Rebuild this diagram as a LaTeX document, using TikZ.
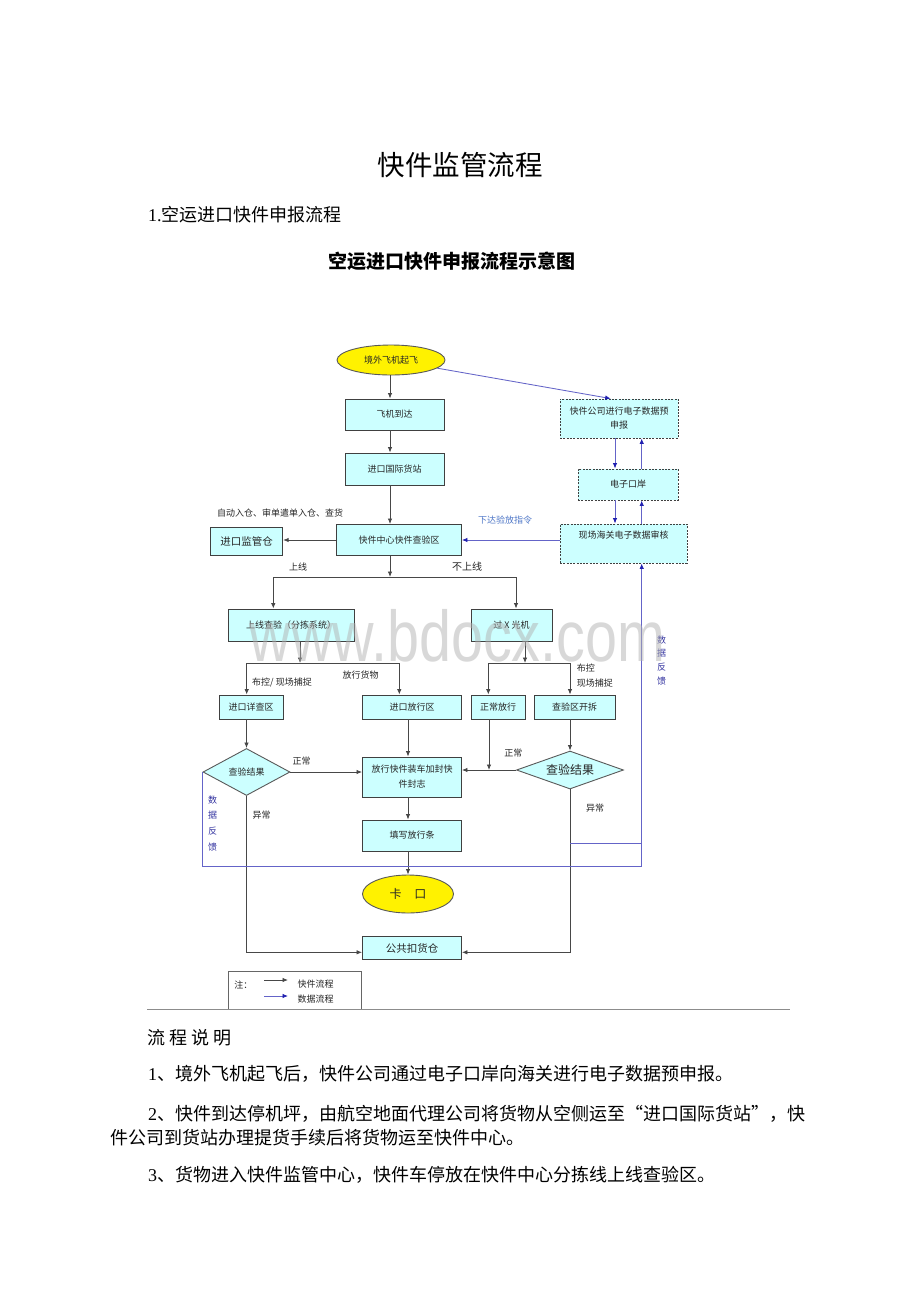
\documentclass[tikz,border=0pt]{standalone}
\usepackage{fontspec}
\setmainfont{Noto Sans CJK SC}
\newfontfamily\digitfont{Liberation Serif}
\newfontfamily\markfont{Liberation Sans}
\usetikzlibrary{shapes,arrows,arrows.meta}
\definecolor{boxcyan}{HTML}{CCFFFF}
\definecolor{datablue}{HTML}{6464C8}
\definecolor{tipblue}{HTML}{2020B0}
\definecolor{labelblue}{HTML}{3333A0}
\definecolor{orderblue}{HTML}{5078C8}
\tikzset{%
	block/.style    = {draw=black!75, line width=0.9pt, rectangle, fill=boxcyan,
		inner sep=1pt, font=\fontsize{9}{14}\selectfont, text=black!85, align=center},
	netblock/.style = {block, dash pattern=on 2pt off 1.3pt}, % dotted frame
	oval/.style     = {draw=black!65, line width=0.9pt, ellipse, fill=yellow,
		inner sep=0pt, font=\fontsize{9}{11}\selectfont, text=black!85},
	check/.style    = {draw=black!65, line width=0.9pt, diamond, fill=boxcyan,
		inner sep=0pt, font=\fontsize{9}{11}\selectfont, text=black!85},
	flowline/.style = {draw=black!72, line width=0.85pt,
		>={Latex[length=5.5pt,width=4.5pt]}},
	dataline/.style = {draw=datablue, line width=0.85pt,
		>={Latex[length=5.5pt,width=4.5pt,color=tipblue]}},
	lbl/.style      = {font=\fontsize{9}{11}\selectfont, text=black!85, inner sep=0pt},
	doc/.style      = {font=\fontsize{18}{18}\selectfont, anchor=west, inner sep=0pt}
}

\begin{document}
\begin{tikzpicture}[x=1pt,y=-1pt]
			\fill[white] (0,0) rectangle (920,1302);
			\useasboundingbox (0,0) rectangle (920,1302);
			
			% headings
			\node[font=\fontsize{27.5}{28}\selectfont, inner sep=0pt] (title) at (460,165.5) {快件监管流程};
			\node[doc] (sect) at (148,214.5) {{\digitfont 1.}空运进口快件申报流程};
			\node[font=\fontsize{19}{19}\selectfont\bfseries, inner sep=0pt] (chart) at (451.7,261) {空运进口快件申报流程示意图};
			
			% cargo flow
			\node[oval, minimum width=108pt, minimum height=30pt] (takeoff) at (391,360) {境外飞机起飞};
			\node[block, minimum width=99pt, minimum height=31pt] (arrive) at (394.5,414.5) {飞机到达};
			\node[block, minimum width=99pt, minimum height=32pt] (station) at (394.5,469) {进口国际货站};
			\node[block, minimum width=125pt, minimum height=31pt] (hub) at (399,540) {快件中心快件查验区};
			\node[block, minimum width=72pt, minimum height=28pt, font=\fontsize{10.5}{12}\selectfont] (bonded) at (246.7,541) {进口监管仓};
			\node[block, minimum width=126pt, minimum height=32pt] (online) at (291,625) {上线查验（分拣系统）};
			\node[block, minimum width=81pt, minimum height=32pt] (xray) at (511.5,625) {过 X 光机};
			\node[block, minimum width=64pt, minimum height=24pt] (detail) at (251,707) {进口详查区};
			\node[block, minimum width=99pt, minimum height=24pt] (release) at (412,707) {进口放行区};
			\node[block, minimum width=54pt, minimum height=24pt] (normal) at (498,707) {正常放行};
			\node[block, minimum width=81pt, minimum height=24pt] (unpack) at (574.5,707) {查验区开拆};
			\node[check, aspect=1.85, minimum width=87pt, minimum height=47pt] (ldia) at (246.5,772) {查验结果};
			\node[check, aspect=2.8, minimum width=107pt, minimum height=38pt, font=\fontsize{12}{13}\selectfont] (rdia) at (570,770) {查验结果};
			\node[block, minimum width=99pt, minimum height=40pt, font=\fontsize{9}{15}\selectfont] (seal) at (412,777) {放行快件装车加封快\\件封志};
			\node[block, minimum width=99pt, minimum height=31pt] (slip) at (412,835.5) {填写放行条};
			\node[oval, minimum width=91pt, minimum height=38pt, font=\fontsize{12}{13}\selectfont] (gate) at (408,894) {卡\hspace{13pt}口};
			\node[block, minimum width=99pt, minimum height=23pt, font=\fontsize{10.5}{12}\selectfont] (hold) at (412,948.3) {公共扣货仓};
			
			% data flow
			\node[netblock, minimum width=118pt, minimum height=39pt] (predecl) at (619,418.5) {快件公司进行电子数据预\\申报};
			\node[netblock, minimum width=100pt, minimum height=31pt] (eport) at (628,484.5) {电子口岸};
			\node[netblock, minimum width=127pt, minimum height=39pt, text depth=18pt] (audit) at (623.5,543.5) {现场海关电子数据审核};
			
			% labels
			\node[lbl] (autoin) at (280,513) {自动入仓、审单遣单入仓、查货};
			\node[lbl, text=orderblue] (order) at (505,520) {下达验放指令};
			\node[lbl] (onl) at (298,567) {上线};
			\node[lbl, font=\fontsize{10}{11}\selectfont] (offl) at (467,567) {不上线};
			\node[lbl] (ctrl1) at (282,682.7) {布控/ 现场捕捉};
			\node[lbl] (pass) at (360.7,675) {放行货物};
			\node[lbl, anchor=west, align=left, font=\fontsize{9}{15}\selectfont] (ctrl2) at (576.7,675.5) {布控\\现场捕捉};
			\node[lbl] (ok1) at (301.7,760.7) {正常};
			\node[lbl] (ok2) at (513.3,753) {正常};
			\node[lbl] (bad1) at (261.7,815) {异常};
			\node[lbl] (bad2) at (595,808) {异常};
			\node[lbl, text=labelblue, align=center, font=\fontsize{9}{15.6}\selectfont] (fbl) at (212.7,823.3) {数\\据\\反\\馈};
			\node[lbl, text=labelblue, align=center, font=\fontsize{9}{13.6}\selectfont] (fbr) at (661.7,660.3) {数\\据\\反\\馈};
			
			% junctions
			\coordinate (split) at (390,577);
			\coordinate (splitL) at (273.3,577);
			\coordinate (splitR) at (516,577);
			\coordinate (fork1) at (300,663);
			\coordinate (fork1L) at (246.7,663);
			\coordinate (fork1R) at (399.3,663);
			\coordinate (fork2) at (525,663);
			\coordinate (fork2L) at (488.3,663);
			\coordinate (fork2R) at (570,663);
			\coordinate (fb) at (641.7,866.7);
			\coordinate (fb2) at (570,843.3);
			
			\draw[flowline,->] ([xshift=-1pt]takeoff.south) -- ([xshift=-1pt]takeoff.south |- arrive.north);
			\draw[flowline,->] ([xshift=-4.5pt]arrive.south) -- ([xshift=-4.5pt]station.north);
			\draw[flowline,->] ([xshift=-4.5pt]station.south) -- ([xshift=-4.5pt]station.south |- hub.north);
			\draw[flowline,->] (hub.west) -- (hub.west -| bonded.east);
			\draw[flowline,->] ([xshift=-9pt]hub.south) -- (split);
			\draw[flowline] (splitL) -- (splitR);
			\draw[flowline,->] (splitL) -- (splitL |- online.north);
			\draw[flowline,->] (splitR) -- (splitR |- xray.north);
			\draw[flowline,->] (online.south -| fork1) -- (fork1);
			\draw[flowline] (fork1L) -- (fork1R);
			\draw[flowline,->] (fork1L) -- (fork1L |- detail.north);
			\draw[flowline,->] (fork1R) -- (fork1R |- release.north);
			\draw[flowline,->] (xray.south -| fork2) -- (fork2);
			\draw[flowline] (fork2L) -- (fork2R);
			\draw[flowline,->] (fork2L) -- (fork2L |- normal.north);
			\draw[flowline,->] (fork2R) -- (fork2R |- unpack.north);
			\draw[flowline,->] (detail.south -| ldia.north) -- (ldia.north);
			\draw[flowline,->] ([xshift=-4pt]release.south) -- ([xshift=-4pt]seal.north);
			\draw[flowline,->] (unpack.south -| rdia.north) -- (rdia.north);
			\draw[flowline,->] (ldia.east) -- (ldia.east -| seal.west);
			\draw[flowline,->] (rdia.west) -- (rdia.west -| seal.east);
			\draw[flowline,->] ([xshift=-9pt]normal.south) -- ([xshift=-9pt]normal.south |- rdia.west);
			\draw[flowline,->] ([xshift=-4pt]seal.south) -- ([xshift=-4pt]slip.north);
			\draw[flowline,->] ([xshift=-4pt]slip.south) -- ([xshift=-4pt]slip.south |- gate.north);
			\draw[flowline,->] (ldia.south) |- ([yshift=-4pt]hold.west);
			\draw[flowline,->] (rdia.south) |- ([yshift=-4pt]hold.east);
			
			\draw[dataline,->] (takeoff.-10) -- ([xshift=-8.3pt]predecl.north);
			\draw[dataline,->] ([xshift=-4pt]predecl.south) -- ([xshift=-4pt]predecl.south |- eport.north);
			\draw[dataline,->] ([xshift=13.7pt]eport.north) -- ([xshift=13.7pt]eport.north |- predecl.south);
			\draw[dataline,->] ([xshift=-13pt]eport.south) -- ([xshift=-13pt]eport.south |- audit.north);
			\draw[dataline,->] ([xshift=13.7pt]eport.south |- audit.north) -- ([xshift=13.7pt]eport.south);
			\draw[dataline,->] (audit.west |- hub.east) -- (hub.east);
			\draw[dataline,->] (ldia.west) |- (fb) -- ([xshift=18.2pt]audit.south);
			\draw[dataline] (fb2) -- (fb2 -| fb);
			
			% legend
			\node[draw=black!60, line width=0.9pt, minimum width=133.4pt, minimum height=38pt, inner sep=0pt] (legend) at (295,990.5) {};
			\node[lbl] (notehead) at (243.3,985) {注：};
			\coordinate (lgA) at (264,980);
			\coordinate (lgB) at (288,980);
			\coordinate (lgC) at (264,996);
			\coordinate (lgD) at (288,996);
			\draw[flowline,->] (lgA) -- (lgB);
			\draw[dataline,->] (lgC) -- (lgD);
			\node[lbl, anchor=west] (lgflow) at (297.5,984) {快件流程};
			\node[lbl, anchor=west] (lgdata) at (297.5,999.3) {数据流程};
			
			% rule and notes
			\coordinate (ruleL) at (147,1009.5);
			\coordinate (ruleR) at (790,1009.5);
			\draw[black!45, line width=1.4pt] (ruleL) -- (ruleR);
			\node[doc] (notes) at (147,1038) {流 程 说 明};
			\node[doc] (step1) at (148,1074) {{\digitfont 1}、境外飞机起飞后，快件公司通过电子口岸向海关进行电子数据预申报。};
			\node[doc] (step2) at (148,1113.3) {{\digitfont 2}、快件到达停机坪，由航空地面代理公司将货物从空侧运至“进口国际货站”，快};
			\node[doc] (step2b) at (110,1137.3) {件公司到货站办理提货手续后将货物运至快件中心。};
			\node[doc] (step3) at (148,1175) {{\digitfont 3}、货物进入快件监管中心，快件车停放在快件中心分拣线上线查验区。};
			
			% watermark
			\node[inner sep=0pt, text=black!30, text opacity=0.5, font=\markfont\fontsize{57.5}{58}\selectfont] (mark) at (457.5,636) {\scalebox{1}[1.25]{www.bdocx.com}};
		\end{tikzpicture}
\end{document}
